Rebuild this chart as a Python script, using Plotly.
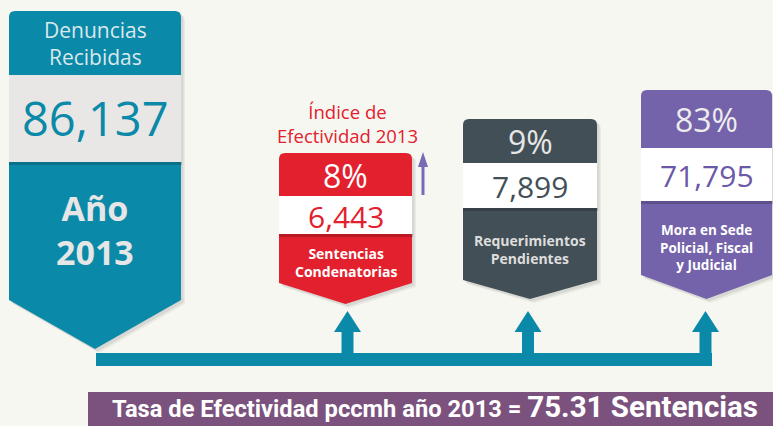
import plotly.graph_objects as go

# ---- data ----
total_label = ["Denuncias", "Recibidas"]
total_value = "86,137"
year_label = ["Año", "2013"]
card_labels = [["Sentencias", "Condenatorias"],
               ["Requerimientos", "Pendientes"],
               ["Mora en Sede", "Policial, Fiscal", "y Judicial"]]
card_values = ["6,443", "7,899", "71,795"]
card_pcts = ["8%", "9%", "83%"]
index_label = ["Índice de", "Efectividad 2013"]
rate_text = "Tasa de Efectividad pccmh año 2013 ="
rate_value = "75.31 Sentencias"

# ---- layout / style ----
W, H = 773, 426
BG = "#f7f7f2"
TEAL = "#0a89a8"
card_colors = ["#e3202d", "#434f56", "#7462aa"]
value_colors = ["#e3202d", "#434f56", "#6b58a8"]
pct_colors = ["#ffffff", "#e6e6e6", "#ececec"]
label_colors = ["#ffffff", "#dedede", "#ffffff"]
strip_colors = ["#ffffff", "#ffffff", "#ffffff"]
# geometry of each card: x0, x1, top, strip0, strip1, edge, point
card_geom = [(279, 412, 153, 196, 234, 283, 304),
             (463, 597, 119, 163, 208, 280, 299),
             (641, 772, 90, 148, 201, 275, 299)]
label_centers = [262, 249.5, 247]
label_sizes = [14, 14, 13.5]
teal_geom = (9, 181, 11, 75, 162, 300, 349)
FONT = "Open Sans"

shapes = []
annotations = []


def card_path(x0, x1, top, edge, point, r=6):
    mid = (x0 + x1) / 2
    return (f"M {x0},{top + r} Q {x0},{top} {x0 + r},{top} L {x1 - r},{top} "
            f"Q {x1},{top} {x1},{top + r} L {x1},{edge} L {mid},{point} L {x0},{edge} Z")


def add_card(geom, color, strip_color):
    x0, x1, top, s0, s1, edge, point = geom
    for d, a in ((4, 0.05), (2.5, 0.08)):
        shapes.append(dict(type="path", xref="x", yref="y",
                           path=card_path(x0 + d, x1 + d, top + d, edge + d, point + d),
                           fillcolor=f"rgba(0,0,0,{a})", line=dict(width=0), layer="below"))
    shapes.append(dict(type="path", xref="x", yref="y",
                       path=card_path(x0, x1, top, edge, point),
                       fillcolor=color, line=dict(width=0), layer="below"))
    shapes.append(dict(type="rect", xref="x", yref="y", x0=x0, x1=x1 + 1, y0=s1, y1=s1 + 3,
                       fillcolor="rgba(0,0,0,0.18)", line=dict(width=0), layer="below"))
    shapes.append(dict(type="rect", xref="x", yref="y", x0=x0, x1=x1, y0=s0, y1=s1,
                       fillcolor=strip_color, line=dict(width=0), layer="below"))


def text(x, y, s, size, color, bold=False, family=FONT, xanchor="center"):
    annotations.append(dict(x=x, y=y, xref="x", yref="y", text=(f"<b>{s}</b>" if bold else s),
                            showarrow=False, xanchor=xanchor, yanchor="middle",
                            font=dict(family=family, size=size, color=color)))


# teal main banner
add_card(teal_geom, TEAL, "#e8e7e5")
tx = (teal_geom[0] + teal_geom[1]) / 2
text(tx, 43, "<br>".join(total_label), 21, "#dbe8ec")
text(tx, 118, total_value, 47, TEAL)
text(tx, 230, "<br>".join(year_label), 34, "#e6e6e6", bold=True)

# connector bar and arrows
bar_y0, bar_y1 = 353, 366
shapes.append(dict(type="rect", xref="x", yref="y", x0=96, x1=712, y0=bar_y0, y1=bar_y1,
                   fillcolor=TEAL, line=dict(width=0), layer="below"))
arrow_x = [347.5, 528, 705.5]
for ax in arrow_x:
    shapes.append(dict(type="rect", xref="x", yref="y", x0=ax - 6, x1=ax + 6, y0=331, y1=bar_y0 + 1,
                       fillcolor=TEAL, line=dict(width=0), layer="below"))
    shapes.append(dict(type="path", xref="x", yref="y",
                       path=f"M {ax - 13.5},332 L {ax},311 L {ax + 13.5},332 Z",
                       fillcolor=TEAL, line=dict(width=0), layer="below"))

# cards
for i, g in enumerate(card_geom):
    add_card(g, card_colors[i], strip_colors[i])
    x0, x1, top, s0, s1, edge, point = g
    cx = (x0 + x1) / 2
    text(cx, (top + s0) / 2 + 0.5, card_pcts[i], 32, pct_colors[i])
    text(cx, (s0 + s1) / 2 + 1, card_values[i], 30, value_colors[i])
    text(cx, label_centers[i], "<br>".join(card_labels[i]), label_sizes[i], label_colors[i], bold=True)

# index of effectiveness label + small arrow
text(347, 123, "<br>".join(index_label), 18.5, "#e3202d")
shapes.append(dict(type="rect", xref="x", yref="y", x0=421.5, x1=424.5, y0=165, y1=195,
                   fillcolor="#7a6ab5", line=dict(width=0)))
shapes.append(dict(type="path", xref="x", yref="y", path="M 418,167 L 423,152 L 428,167 Z",
                   fillcolor="#7a6ab5", line=dict(width=0)))

# bottom band
shapes.append(dict(type="rect", xref="x", yref="y", x0=88, x1=773, y0=392, y1=426,
                   fillcolor="#7b527e", line=dict(width=0), layer="below"))
annotations.append(dict(x=760, y=407, xref="x", yref="y", showarrow=False,
                        xanchor="right", yanchor="middle",
                        text=f"<b>{rate_text} <span style='font-size:29.5px'>{rate_value}</span></b>",
                        font=dict(family="Roboto", size=23.7, color="#ffffff")))

fig = go.Figure()
fig.update_layout(width=W, height=H, margin=dict(l=0, r=0, t=0, b=0),
                  paper_bgcolor=BG, plot_bgcolor=BG, showlegend=False,
                  xaxis=dict(range=[0, W], visible=False, fixedrange=True),
                  yaxis=dict(range=[H, 0], visible=False, fixedrange=True),
                  shapes=shapes, annotations=annotations)
fig.write_html("out.html", config={"displayModeBar": False},
               post_script="document.body.style.margin='0';document.body.style.overflow='hidden';")
